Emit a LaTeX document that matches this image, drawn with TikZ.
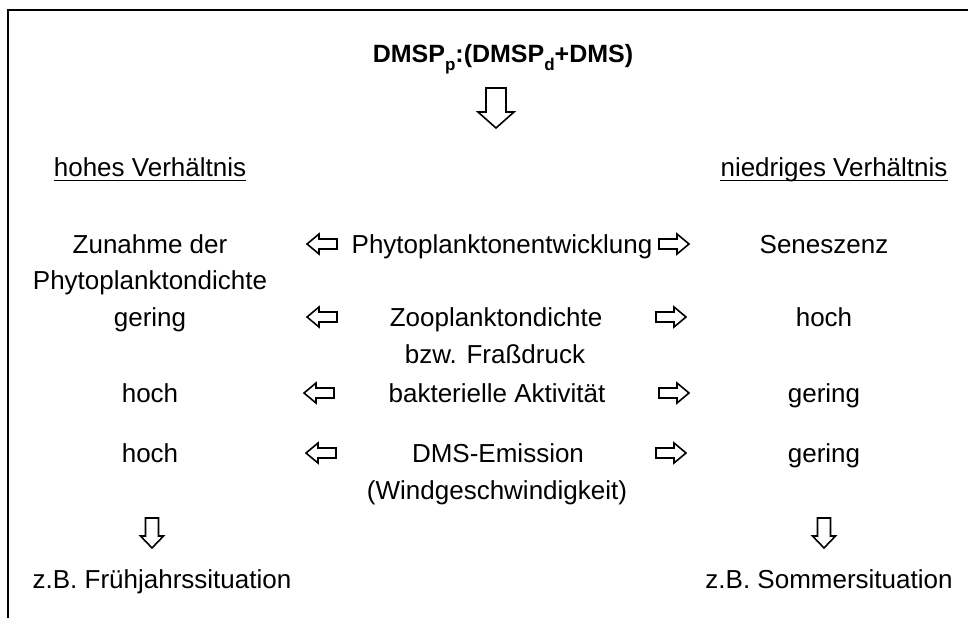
\documentclass[tikz,border=0pt]{standalone}
\usepackage{fontspec}
\setmainfont{Liberation Sans}
\begin{document}
\begin{tikzpicture}[x=1pt,y=-1pt,
  txt/.style={inner sep=0pt, anchor=base, font=\fontsize{26}{31}\selectfont},
  arrowline/.style={draw=black, line width=1.6pt, line join=miter, fill=white},
  frame/.style={line width=1.8pt},
  uline/.style={line width=1.3pt},
  hollow/.pic={\draw[arrowline] (-15,-5) -- (3,-5) -- (3,-10) -- (15,0) -- (3,10) -- (3,5) -- (-15,5) -- cycle;},
  bighollow/.pic={\draw[arrowline] (-20,-10) -- (4,-10) -- (4,-18) -- (20,0) -- (4,18) -- (4,10) -- (-20,10) -- cycle;},
  downhollow/.pic={\draw[arrowline] (-15,-6.5) -- (3,-6.5) -- (3,-11.5) -- (15,0) -- (3,11.5) -- (3,6.5) -- (-15,6.5) -- cycle;}
]
\useasboundingbox (0,0) rectangle (968,618);
% frame (top and left edges)
\coordinate (fl) at (8,618);
\coordinate (tl) at (8,10);
\coordinate (tr) at (968,10);
\draw[frame] (fl) -- (tl) -- (tr);

% title
\node[txt, font=\fontsize{25}{30}\selectfont\bfseries] (title) at (503,63) {DMSP\raisebox{-0.3em}{\fontsize{17}{17}\selectfont p}:(DMSP\raisebox{-0.3em}{\fontsize{17}{17}\selectfont d}+DMS)};
\pic[rotate=-90] at (496,108) {bighollow};

% headers
\node[txt] (hl) at (150,176) {hohes Verhältnis};
\node[txt] (hr) at (834,176) {niedriges Verhältnis};
\draw[uline] ([yshift=-4.5pt]hl.base west) -- ([yshift=-4.5pt]hl.base east);
\draw[uline] ([yshift=-4.5pt]hr.base west) -- ([yshift=-4.5pt]hr.base east);

% row 1
\node[txt] (l1a) at (150,253) {Zunahme der};
\node[txt] (l1b) at (150,289) {Phytoplanktondichte};
\node[txt] (c1) at (502,253) {Phytoplanktonentwicklung};
\node[txt] (r1) at (824,253) {Seneszenz};
\pic[rotate=180] at (322,244) {hollow};
\pic at (674,244) {hollow};

% row 2
\node[txt] (l2) at (150,326) {gering};
\node[txt] (c2a) at (496,326) {Zooplanktondichte};
\node[txt] (c2b) at (495,363) {bzw. Fraßdruck};
\node[txt] (r2) at (824,326) {hoch};
\pic[rotate=180] at (322,317) {hollow};
\pic at (671,317) {hollow};

% row 3
\node[txt] (l3) at (150,402) {hoch};
\node[txt] (c3) at (497,402) {bakterielle Aktivität};
\node[txt] (r3) at (824,402) {gering};
\pic[rotate=180] at (319,393) {hollow};
\pic at (674,393) {hollow};

% row 4
\node[txt] (l4) at (150,462) {hoch};
\node[txt] (c4a) at (498,462) {DMS-Emission};
\node[txt] (c4b) at (497,499) {(Windgeschwindigkeit)};
\node[txt] (r4) at (824,462) {gering};
\pic[rotate=180] at (321,453) {hollow};
\pic at (671,453) {hollow};

% bottom
\pic[rotate=-90] at (152,533) {downhollow};
\pic[rotate=-90] at (824,533) {downhollow};
\node[txt] (lb) at (162,588) {z.B. Frühjahrssituation};
\node[txt] (rb) at (829,588) {z.B. Sommersituation};
\end{tikzpicture}
\end{document}
